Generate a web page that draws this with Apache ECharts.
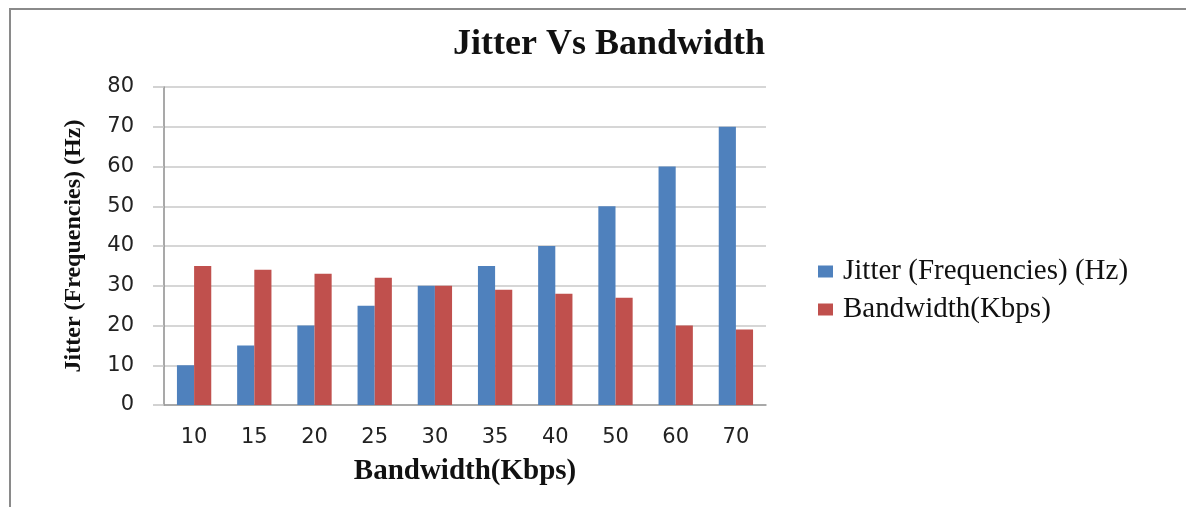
<!DOCTYPE html>
<html>
<head>
<meta charset="utf-8">
<style>
  html, body { margin: 0; padding: 0; background: #ffffff; }
  #chart { width: 1186px; height: 507px; }
</style>
<script src="https://cdn.jsdelivr.net/npm/echarts@6/dist/echarts.min.js"></script>
</head>
<body>
<div id="chart"></div>
<script>
// Bandwidth settings (Kbps) along the category axis
const categories = ['10', '15', '20', '25', '30', '35', '40', '50', '60', '70'];
// Measured jitter for each setting
const jitterHz = [10, 15, 20, 25, 30, 35, 40, 50, 60, 70];
// Achieved bandwidth for each setting
const bandwidthKbps = [35, 34, 33, 32, 30, 29, 28, 27, 20, 19];
// Value axis range and step
const yMin = 0, yMax = 80, yStep = 10;

const seriesNames = ['Jitter (Frequencies) (Hz)', 'Bandwidth(Kbps)'];
const colors = ['#4f81bd', '#c0504d'];

const serif = '"Liberation Serif", "Times New Roman", serif';
const sans = '"DejaVu Sans", Verdana, sans-serif';

const chart = echarts.init(document.getElementById('chart'), null, { renderer: 'canvas' });

chart.setOption({
  backgroundColor: '#ffffff',
  animation: false,
  color: colors,
  title: {
    text: 'Jitter Vs Bandwidth',
    left: 604,
    top: 22,
    textAlign: 'center',
    textStyle: { fontFamily: serif, fontWeight: 'bold', fontSize: 36, color: '#111111' }
  },
  graphic: [{
    type: 'rect',
    shape: { x: 10, y: 9, width: 1200, height: 520 },
    style: { fill: 'none', stroke: '#8a8a8a', lineWidth: 2 },
    silent: true
  }],
  legend: {
    orient: 'vertical',
    left: 813,
    top: 252,
    itemWidth: 15,
    itemHeight: 12,
    itemGap: 9,
    icon: 'rect',
    textStyle: { fontFamily: serif, fontSize: 29, color: '#111111', padding: [0, 0, 0, 5] },
    data: seriesNames
  },
  grid: { left: 164, right: 420, top: 87, bottom: 102, containLabel: false },
  xAxis: {
    type: 'category',
    data: categories,
    name: 'Bandwidth(Kbps)',
    nameLocation: 'middle',
    nameGap: 52,
    nameTextStyle: { fontFamily: serif, fontWeight: 'bold', fontSize: 29, color: '#111111' },
    axisLine: { show: true, lineStyle: { color: '#9a9a9a', width: 1.5 } },
    axisTick: { show: false },
    axisLabel: { margin: 22, fontFamily: sans, fontSize: 21, color: '#222222' },
    splitLine: { show: false }
  },
  yAxis: {
    type: 'value',
    min: yMin,
    max: yMax,
    interval: yStep,
    name: 'Jitter (Frequencies) (Hz)',
    nameLocation: 'middle',
    nameGap: 78,
    nameRotate: 90,
    nameTextStyle: { fontFamily: serif, fontWeight: 'bold', fontSize: 24, color: '#111111' },
    axisLine: { show: true, lineStyle: { color: '#8c8c8c', width: 1.5 } },
    axisTick: { show: true, inside: false, length: 11, lineStyle: { color: '#c4c4c4', width: 1.5 } },
    axisLabel: { margin: 30, fontFamily: sans, fontSize: 21, color: '#222222' },
    splitLine: { show: true, lineStyle: { color: '#c8c8c8', width: 1.5 } }
  },
  series: [
    {
      name: seriesNames[0],
      type: 'bar',
      data: jitterHz,
      barGap: '0%',
      barCategoryGap: '43%',
      itemStyle: { color: colors[0] }
    },
    {
      name: seriesNames[1],
      type: 'bar',
      data: bandwidthKbps,
      barGap: '0%',
      barCategoryGap: '43%',
      itemStyle: { color: colors[1] }
    }
  ]
});
</script>
</body>
</html>
